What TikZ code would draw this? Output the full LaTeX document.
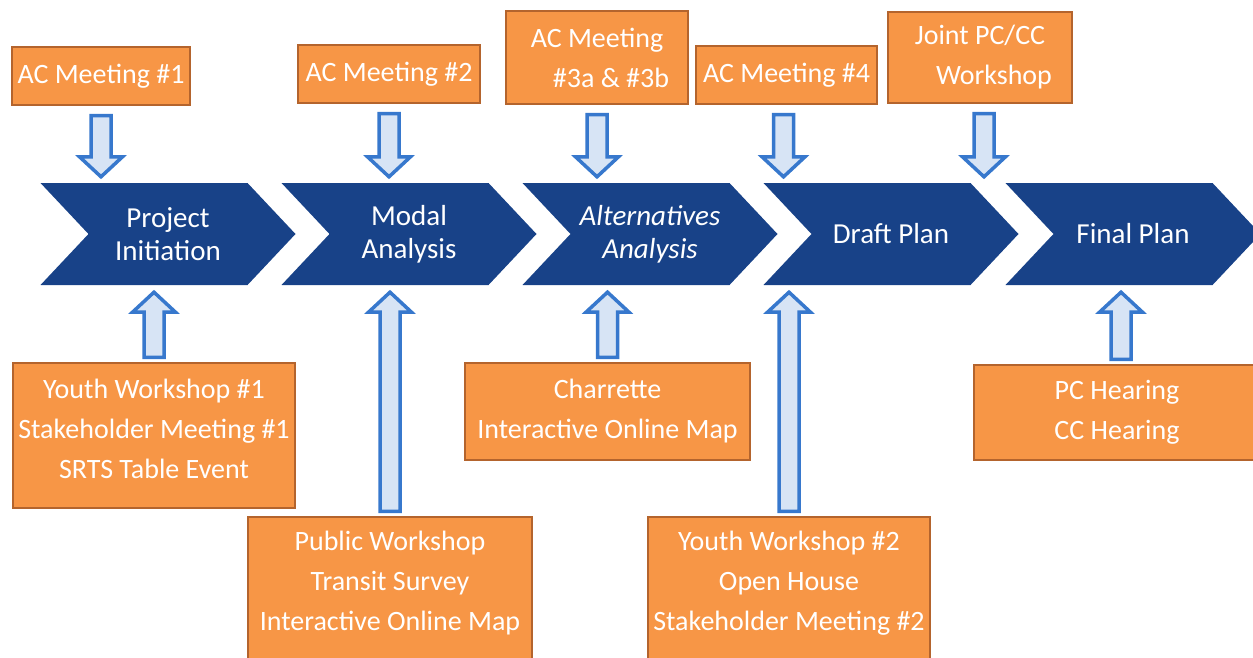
\documentclass[tikz,border=0pt]{standalone}
\usepackage{fontspec}
\setmainfont{Carlito}
\usetikzlibrary{shapes.symbols,calc}

\definecolor{phaseblue}{RGB}{24,66,136}
\definecolor{eventorange}{RGB}{247,150,70}
\definecolor{eventedge}{RGB}{180,100,45}
\definecolor{feededge}{RGB}{55,120,205}
\definecolor{feedfill}{RGB}{215,228,245}

\tikzset{
  phase/.style={shape=signal, signal from=west, signal to=east,
    signal pointer angle=93.5, fill=phaseblue, text=white,
    minimum width=255pt, minimum height=102pt, inner sep=0pt,
    align=center, font=\fontsize{29}{33}\selectfont},
  event/.style={fill=eventorange, draw=eventedge, line width=1.5pt,
    text=white, align=center, inner sep=0pt,
    font=\fontsize{28}{40}\selectfont},
  feed/.style={draw=feededge, fill=feedfill, line width=3.5pt,
    line join=miter},
}

% block arrow from #1 straight to the height of #2
\newcommand\feedarrow[2]{%
  \draw[feed] let \p1=(#1), \p2=(#2), \p3=($(\x1,\y2)!20pt!(\p1)$) in
    (\x1-10pt,\y1) -- (\x1-10pt,\y3) -- (\x1-21.5pt,\y3) -- (\x1,\y2)
    -- (\x1+21.5pt,\y3) -- (\x1+10pt,\y3) -- (\x1+10pt,\y1) -- cycle;}
% extra depth under a last line, lifts the lines in a tall box
\newcommand\lift[1]{\rule[-#1]{0pt}{#1}}

\begin{document}
\begin{tikzpicture}[x=1pt,y=-1pt]
  \useasboundingbox (0,0) rectangle (1253,658);
  \clip (0,0) rectangle (1253,658);

  % phases
  \node[phase] (p1) at (168,234) {Project\\Initiation};
  \node[phase] (p2) at (409,234) {Modal\\Analysis};
  \node[phase] (p3) at (650,234) {\itshape Alternatives\\\itshape Analysis};
  \node[phase] (p4) at (891,234) {Draft Plan};
  \node[phase] (p5) at (1133,234) {Final Plan};

  % meetings above
  \node[event, minimum width=178pt, minimum height=58pt] (a1) at (101,76) {AC Meeting \#1};
  \node[event, minimum width=182pt, minimum height=58pt] (a2) at (389,74) {AC Meeting \#2};
  \node[event, minimum width=182pt, minimum height=93pt] (a3) at (597,57.5)
    {AC Meeting\\\hspace*{28pt}\#3a \& \#3b};
  \node[event, minimum width=181pt, minimum height=58pt] (a4) at (786.5,75) {AC Meeting \#4};
  \node[event, minimum width=184pt, minimum height=91pt] (a5) at (980,57.5)
    {Joint PC/CC\\\hspace*{28pt}Workshop};

  % outreach below
  \node[event, minimum width=282pt, minimum height=145pt] (b1) at (154,435.5)
    {Youth Workshop \#1\\Stakeholder Meeting \#1\\SRTS Table Event\lift{14pt}};
  \node[event, minimum width=284pt, minimum height=146pt] (b2) at (390,590)
    {Public Workshop\\Transit Survey\\Interactive Online Map\lift{18pt}};
  \node[event, minimum width=285pt, minimum height=97pt] (b3) at (607.5,411.5)
    {Charrette\\Interactive Online Map};
  \node[event, minimum width=282pt, minimum height=146pt] (b4) at (789,590)
    {Youth Workshop \#2\\Open House\\Stakeholder Meeting \#2\lift{18pt}};
  \node[event, minimum width=286pt, minimum height=95pt] (b5) at (1117,412.5)
    {PC Hearing\\CC Hearing};

  % arrows into the phases
  \feedarrow{[yshift=-10pt]a1.south}{[yshift=6pt]p1.north}
  \feedarrow{[yshift=-10pt]a2.south}{[yshift=6pt]p2.north}
  \feedarrow{[yshift=-10pt]a3.south}{[yshift=6pt]p3.north}
  \feedarrow{[xshift=-3pt,yshift=-10pt]a4.south}{[yshift=6pt]p4.north}
  \feedarrow{[xshift=4pt,yshift=-10pt]a5.south}{[yshift=6pt]p5.north}
  \feedarrow{[yshift=5pt]b1.north}{[yshift=-7pt]p1.south}
  \feedarrow{[yshift=5pt]b2.north}{[yshift=-7pt]p2.south}
  \feedarrow{[yshift=5pt]b3.north}{[yshift=-7pt]p3.south}
  \feedarrow{[yshift=5pt]b4.north}{[yshift=-7pt]p4.south}
  \feedarrow{[xshift=4pt,yshift=5pt]b5.north}{[yshift=-7pt]p5.south}
\end{tikzpicture}
\end{document}
